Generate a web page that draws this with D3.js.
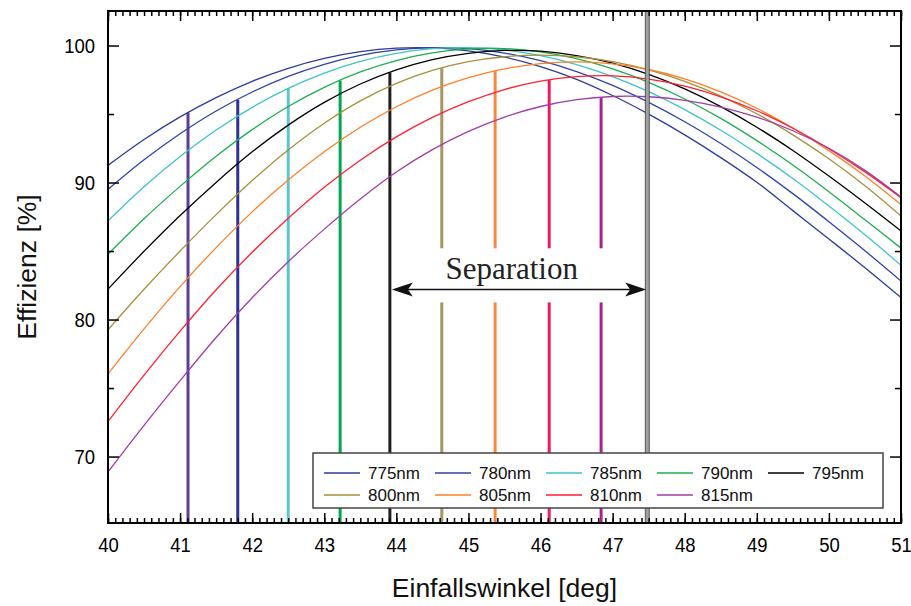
<!DOCTYPE html>
<html>
<head>
<meta charset="utf-8">
<script src="https://d3js.org/d3.v7.min.js"></script>
<style>
  html, body { margin: 0; padding: 0; background: #fff; }
  svg { display: block; }
  text { font-family: "Liberation Sans", Arial, sans-serif; }
</style>
</head>
<body>
<svg id="chart" width="911" height="606"></svg>
<script>
// ---------------- data ----------------
const angles = [40,40.5,41,41.5,42,42.5,43,43.5,44,44.5,45,45.5,46,46.5,47,47.5,48,48.5,49,49.5,50,50.5,51];

const eff775 = [91.25,93.14,94.79,96.20,97.39,98.34,99.06,99.55,99.81,99.83,99.61,99.16,98.46,97.53,96.35,94.99,93.48,91.82,90.02,87.95,85.88,83.78,81.60];
const eff780 = [89.50,91.66,93.56,95.22,96.61,97.75,98.63,99.28,99.68,99.85,99.77,99.45,98.89,98.10,97.09,95.85,94.44,92.85,91.10,89.19,87.14,85.02,82.81];
const eff785 = [87.20,89.69,91.90,93.83,95.49,96.87,97.99,98.84,99.43,99.77,99.84,99.68,99.26,98.61,97.73,96.63,95.32,93.82,92.13,90.29,88.28,86.18,83.96];
const eff790 = [84.77,87.36,89.72,91.92,93.86,95.55,96.95,98.07,98.90,99.46,99.75,99.78,99.54,99.04,98.29,97.31,96.10,94.68,93.06,91.28,89.33,87.28,85.21];
const eff795 = [82.22,84.98,87.59,90.01,92.24,94.19,95.85,97.19,98.22,98.97,99.43,99.64,99.59,99.27,98.71,97.89,96.83,95.54,94.04,92.34,90.47,88.50,86.46];
const eff800 = [79.25,82.21,85.00,87.66,90.15,92.38,94.33,95.96,97.24,98.19,98.82,99.18,99.30,99.18,98.82,98.22,97.38,96.31,95.02,93.48,91.73,89.76,87.55];
const eff805 = [76.03,79.32,82.40,85.25,87.86,90.18,92.25,94.03,95.53,96.74,97.66,98.30,98.68,98.80,98.66,98.25,97.57,96.62,95.42,93.98,92.33,90.48,88.39];
const eff810 = [72.56,75.95,79.15,82.17,84.91,87.39,89.65,91.63,93.33,94.75,95.90,96.79,97.40,97.73,97.79,97.55,97.04,96.26,95.24,93.96,92.47,90.78,88.90];
const eff815 = [68.88,72.28,75.54,78.69,81.59,84.22,86.60,88.80,90.77,92.40,93.73,94.78,95.55,96.05,96.28,96.26,96.00,95.51,94.77,93.78,92.50,90.89,88.94];

const seriesNames = ["775nm","780nm","785nm","790nm","795nm","800nm","805nm","810nm","815nm"];
const seriesValues = [eff775, eff780, eff785, eff790, eff795, eff800, eff805, eff810, eff815];
const seriesColors = ["#2d3c98","#3043a8","#3ec4c6","#1cae4c","#000000","#a5913c","#ff7f27","#ff1f30","#a23ca6"];

// vertical marker lines
const markerAngles = [41.11, 41.80, 42.50, 43.22, 43.91, 44.63, 45.37, 46.12, 46.84];
const markerTops   = [95.10, 96.05, 96.87, 97.44, 98.03, 98.35, 98.13, 97.48, 96.21];
const markerColors = ["#5c3d8f","#2e3192","#5ec4d0","#00a651","#231f20","#a59563","#f7863f","#ee1b5a","#a6238f"];
const markerGapped = [false,false,false,false,false,true,true,true,true];
const gapRange = [81.25, 85.2];

// reference angle and separation annotation
const refAngle = 47.48;
const sepFrom = 43.91, sepTo = 47.48, sepLevel = 82.2;
const sepLabel = "Separation", sepLabelAngle = 45.6, sepLabelLevel = 82.95;

// axis ticks
const xMajor = [40,41,42,43,44,45,46,47,48,49,50,51];
const xMinor = d3.range(400, 511).map(v => v / 10);
const yMajor = [70, 80, 90, 100];
const yMinor = [75, 85, 95];

const xTitle = "Einfallswinkel [deg]";
const yTitle = "Effizienz [%]";

// ---------------- layout ----------------
const L = 108, R = 901, T = 11, B = 523;
const svg = d3.select("#chart");
const x = d3.scaleLinear().domain([40, 51]).range([L, R]);
const y = d3.scaleLinear().domain([65.15, 102.52]).range([B, T]);

svg.append("defs").append("clipPath").attr("id", "plotclip")
  .append("rect").attr("x", L).attr("y", T).attr("width", R - L).attr("height", B - T);

const plot = svg.append("g").attr("clip-path", "url(#plotclip)");

// marker lines
markerAngles.forEach((a, i) => {
  const px = x(a);
  const segs = markerGapped[i]
    ? [[y.domain()[0], gapRange[0]], [gapRange[1], markerTops[i]]]
    : [[y.domain()[0], markerTops[i]]];
  segs.forEach(s => {
    plot.append("line")
      .attr("x1", px).attr("x2", px)
      .attr("y1", y(s[0])).attr("y2", y(s[1]))
      .attr("stroke", markerColors[i]).attr("stroke-width", 3);
  });
});

// curves
const line = d3.line().x((d, i) => x(angles[i])).y(d => y(d)).curve(d3.curveCatmullRom.alpha(0.5));
seriesValues.forEach((vals, i) => {
  plot.append("path").datum(vals)
    .attr("d", line)
    .attr("fill", "none")
    .attr("stroke", seriesColors[i])
    .attr("stroke-width", 1.3);
});

// reference gray line
plot.append("rect")
  .attr("x", x(refAngle) - 2).attr("y", T).attr("width", 4).attr("height", B - T)
  .attr("fill", "#a0a0a0").attr("stroke", "#3a3a3a").attr("stroke-width", 0.8);

// separation arrow
const ay = y(sepLevel), ax1 = x(sepFrom) + 2, ax2 = x(sepTo) - 1;
svg.append("line").attr("x1", ax1 + 10).attr("x2", ax2 - 10).attr("y1", ay).attr("y2", ay)
  .attr("stroke", "#111").attr("stroke-width", 1.5);
svg.append("path").attr("d", `M${ax1},${ay} L${ax1 + 21},${ay - 7} L${ax1 + 16},${ay} L${ax1 + 21},${ay + 7} Z`).attr("fill", "#111");
svg.append("path").attr("d", `M${ax2},${ay} L${ax2 - 21},${ay - 7} L${ax2 - 16},${ay} L${ax2 - 21},${ay + 7} Z`).attr("fill", "#111");
svg.append("text").attr("x", x(sepLabelAngle)).attr("y", y(sepLabelLevel))
  .attr("text-anchor", "middle")
  .style("font-family", "'Liberation Serif', 'Times New Roman', serif")
  .style("font-size", "31px").attr("fill", "#222").text(sepLabel);

// legend
const lg = svg.append("g");
lg.append("rect").attr("x", 313).attr("y", 453).attr("width", 570).attr("height", 55)
  .attr("fill", "#fff").attr("stroke", "#444").attr("stroke-width", 1.5);
seriesNames.forEach((n, i) => {
  const col = i % 5, row = Math.floor(i / 5);
  const lx = 324 + col * 111, ly = 473 + row * 22;
  lg.append("line").attr("x1", lx).attr("x2", lx + 36).attr("y1", ly).attr("y2", ly)
    .attr("stroke", seriesColors[i]).attr("stroke-width", 1.5);
  lg.append("text").attr("x", lx + 44).attr("y", ly).attr("dy", "0.36em")
    .style("font-size", "17px").attr("fill", "#111").text(n);
});

// axes
function styleAxis(g) {
  g.select(".domain").remove();
  g.selectAll(".tick line").attr("stroke", "#000").attr("stroke-width", 1.5);
  g.selectAll("text").style("font-size", "21px").attr("fill", "#000")
    .style("font-family", "'Liberation Sans', Arial, sans-serif");
}
function condense(g, anchorRight) {
  g.selectAll(".tick text").each(function () {
    const t = d3.select(this);
    const tx = +t.attr("x") || 0;
    t.attr("transform", `translate(${tx},0) scale(0.88,1) translate(${-tx},0)`);
  });
}
svg.append("g").attr("transform", `translate(0,${B})`)
  .call(d3.axisBottom(x).tickValues(xMinor).tickSize(-5).tickFormat("")).call(styleAxis);
svg.append("g").attr("transform", `translate(0,${B})`)
  .call(d3.axisBottom(x).tickValues(xMajor).tickSize(-10).tickPadding(14).tickFormat(d3.format("d")))
  .call(styleAxis).call(condense);
svg.append("g").attr("transform", `translate(0,${T})`)
  .call(d3.axisTop(x).tickValues(xMinor).tickSize(-5).tickFormat("")).call(styleAxis);
svg.append("g").attr("transform", `translate(0,${T})`)
  .call(d3.axisTop(x).tickValues(xMajor).tickSize(-10).tickFormat("")).call(styleAxis);

svg.append("g").attr("transform", `translate(${L},0)`)
  .call(d3.axisLeft(y).tickValues(yMinor).tickSize(-6).tickFormat("")).call(styleAxis);
svg.append("g").attr("transform", `translate(${L},0)`)
  .call(d3.axisLeft(y).tickValues(yMajor).tickSize(-11).tickPadding(13).tickFormat(d3.format("d")))
  .call(styleAxis).call(condense);
svg.append("g").attr("transform", `translate(${R},0)`)
  .call(d3.axisRight(y).tickValues(yMinor).tickSize(-6).tickFormat("")).call(styleAxis);
svg.append("g").attr("transform", `translate(${R},0)`)
  .call(d3.axisRight(y).tickValues(yMajor).tickSize(-11).tickFormat("")).call(styleAxis);

// frame
svg.append("rect").attr("x", L).attr("y", T).attr("width", R - L).attr("height", B - T)
  .attr("fill", "none").attr("stroke", "#000").attr("stroke-width", 2);

// titles
svg.append("text").attr("x", (L + R) / 2).attr("y", 597).attr("text-anchor", "middle")
  .style("font-size", "26.5px").attr("fill", "#111").text(xTitle);
svg.append("text").attr("transform", `translate(36,${(T + B) / 2}) rotate(-90)`).attr("text-anchor", "middle")
  .style("font-size", "26.5px").attr("fill", "#111").text(yTitle);
</script>
</body>
</html>
